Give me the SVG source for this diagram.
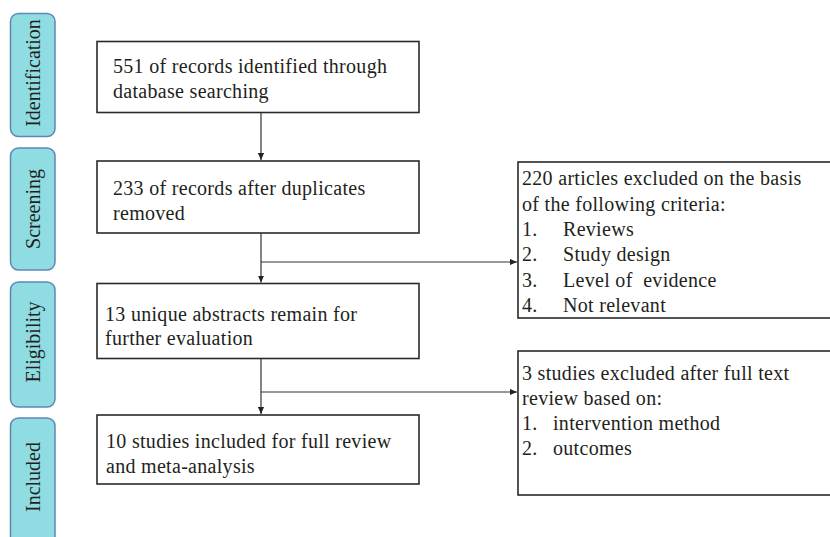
<svg xmlns="http://www.w3.org/2000/svg" width="830" height="537" viewBox="0 0 830 537">
<style>
.stage{fill:#8FDCE2;stroke:#5E87B5;stroke-width:1.5}
.box{fill:#fff;stroke:#2a2a2a;stroke-width:1.6}
.t{font-family:"Liberation Serif","Times New Roman",serif;font-size:20px;fill:#231F20;letter-spacing:0.3px}
.st{font-family:"Liberation Serif","Times New Roman",serif;font-size:20px;fill:#231F20;text-anchor:middle}
.c{fill:none;stroke:#333;stroke-width:1.2}
</style>
<defs>
<marker id="ah" viewBox="0 0 8 8" refX="8" refY="4" markerWidth="7" markerHeight="7" markerUnits="userSpaceOnUse" orient="auto">
<path d="M0,0.5 L8,4 L0,7.5 Z" fill="#222"/>
</marker>
</defs>
<rect width="830" height="537" fill="#fff"/>
<g id="stage-identification">
<rect class="stage" x="10.5" y="13.5" width="44.5" height="123" rx="8"/>
<text class="st" transform="translate(39.5,73) rotate(-90)">Identification</text>
</g>
<g id="stage-screening">
<rect class="stage" x="10.5" y="148" width="44.5" height="122" rx="8"/>
<text class="st" transform="translate(39.5,209) rotate(-90)">Screening</text>
</g>
<g id="stage-eligibility">
<rect class="stage" x="10.5" y="282" width="44.5" height="125" rx="8"/>
<text class="st" transform="translate(39.5,342) rotate(-90)">Eligibility</text>
</g>
<g id="stage-included">
<rect class="stage" x="10.5" y="418" width="44.5" height="135" rx="8"/>
<text class="st" transform="translate(39.5,477) rotate(-90)">Included</text>
</g>
<g id="box-identified">
<rect class="box" x="97" y="41.5" width="322" height="71"/>
<text class="t" x="113" y="73">551 of records identified through</text>
<text class="t" x="113" y="98">database searching</text>
</g>
<g id="box-screened">
<rect class="box" x="97" y="161" width="322" height="72"/>
<text class="t" x="113" y="195">233 of records after duplicates</text>
<text class="t" x="113" y="220">removed</text>
</g>
<g id="box-eligible">
<rect class="box" x="97" y="283.5" width="322" height="75"/>
<text class="t" x="105" y="321">13 unique abstracts remain for</text>
<text class="t" x="105" y="345">further evaluation</text>
</g>
<g id="box-included">
<rect class="box" x="97" y="415" width="322" height="69"/>
<text class="t" x="106" y="448">10 studies included for full review</text>
<text class="t" x="106" y="473">and meta-analysis</text>
</g>
<g id="box-excluded-1">
<rect class="box" x="518" y="162" width="316" height="156"/>
<text class="t" x="522" y="185">220 articles excluded on the basis</text>
<text class="t" x="522" y="210.5">of the following criteria:</text>
<text class="t" x="522" y="236">1.</text><text class="t" x="563" y="236">Reviews</text>
<text class="t" x="522" y="261">2.</text><text class="t" x="563" y="261">Study design</text>
<text class="t" x="522" y="287">3.</text><text class="t" x="563" y="287">Level of&#160; evidence</text>
<text class="t" x="522" y="312">4.</text><text class="t" x="563" y="312">Not relevant</text>
</g>
<g id="box-excluded-2">
<rect class="box" x="518" y="351" width="316" height="144"/>
<text class="t" x="522" y="380">3 studies excluded after full text</text>
<text class="t" x="522" y="405">review based on:</text>
<text class="t" x="522" y="430">1.</text><text class="t" x="553" y="430">intervention method</text>
<text class="t" x="522" y="455">2.</text><text class="t" x="553" y="455">outcomes</text>
</g>
<g id="connectors">
<line class="c" x1="261" y1="113" x2="261" y2="160" marker-end="url(#ah)"/>
<line class="c" x1="261" y1="233" x2="261" y2="282.5" marker-end="url(#ah)"/>
<line class="c" x1="261" y1="262" x2="517" y2="262" marker-end="url(#ah)"/>
<line class="c" x1="261" y1="359" x2="261" y2="414" marker-end="url(#ah)"/>
<line class="c" x1="261" y1="392" x2="517" y2="392" marker-end="url(#ah)"/>
</g>
</svg>
